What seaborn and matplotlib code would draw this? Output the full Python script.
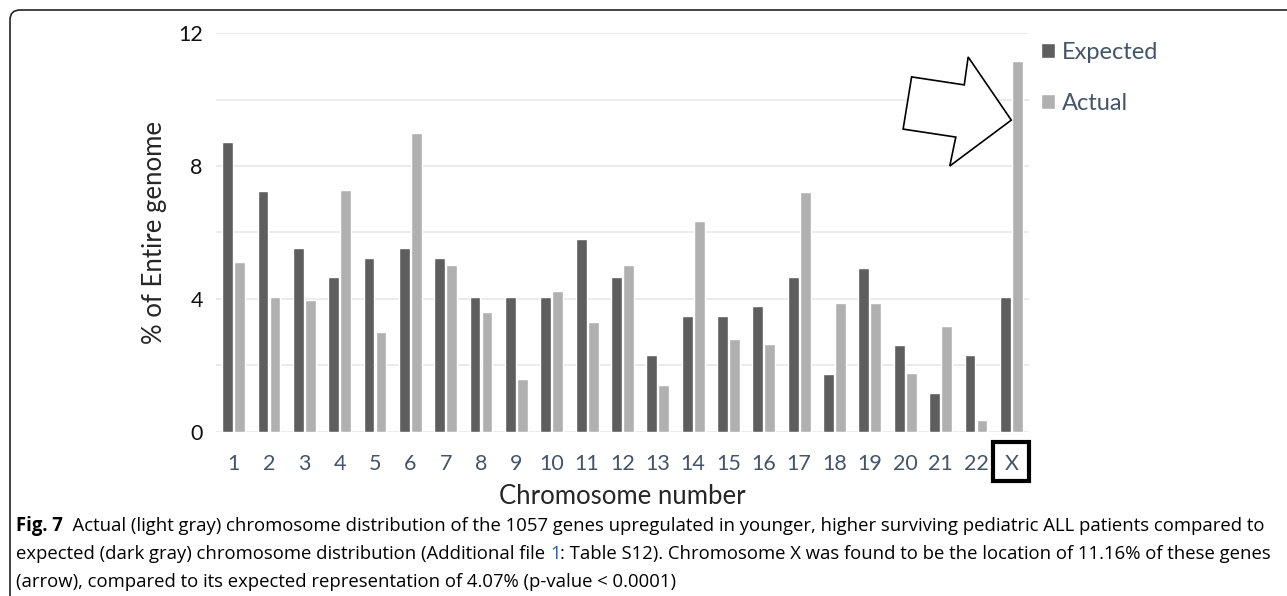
import pandas as pd
import numpy as np
import matplotlib.pyplot as plt
import matplotlib.transforms as mtransforms
from matplotlib.patches import FancyBboxPatch, Rectangle, Polygon
import seaborn as sns

# values (% of entire genome)
chromosomes = [str(i) for i in range(1, 23)] + ['X']
expected = [8.73, 7.26, 5.53, 4.65, 5.24, 5.53, 5.24, 4.06, 4.06, 4.06, 5.81, 4.65,
            2.32, 3.49, 3.49, 3.78, 4.65, 1.75, 4.93, 2.61, 1.17, 2.32, 4.07]
actual = [5.10, 4.06, 3.98, 7.29, 3.02, 8.99, 5.02, 3.60, 1.60, 4.24, 3.31, 5.02,
          1.40, 6.34, 2.81, 2.65, 7.21, 3.87, 3.87, 1.78, 3.20, 0.35, 11.16]
series_names = ['Expected', 'Actual']
colors = {'Expected': '#5e5e5e', 'Actual': '#b0b0b0'}

df = pd.DataFrame({
    'Chromosome': chromosomes * 2,
    'Series': ['Expected'] * len(chromosomes) + ['Actual'] * len(chromosomes),
    'Value': expected + actual,
})

sns.set_style('white')
plt.rcParams['font.family'] = ['Lato', 'DejaVu Sans']

fig = plt.figure(figsize=(12.87, 5.96), dpi=100)
ax = fig.add_axes([0.1678, 0.2752, 0.6317, 0.6694])

sns.barplot(data=df, x='Chromosome', y='Value', hue='Series', order=chromosomes,
            hue_order=series_names, palette=colors, width=0.68, gap=0.1,
            saturation=1, ax=ax)

ax.set_ylim(0, 12)
ax.set_xlim(-0.5, len(chromosomes) - 0.5)
ax.set_yticks([0, 4, 8, 12])
ax.set_yticks([2, 6, 10], minor=True)
ax.grid(axis='y', which='both', color='#e6e6e6', lw=1.1)
ax.set_axisbelow(True)
for s in ax.spines.values():
    s.set_visible(False)
ax.tick_params(axis='both', which='both', length=0)
ax.tick_params(axis='y', labelsize=15.5, pad=9.5, labelcolor='#111111')
ax.tick_params(axis='x', labelsize=15.5, pad=16, labelcolor='#44546a')
ax.set_ylabel('% of Entire genome', fontsize=18.5, labelpad=8)
ax.set_xlabel('Chromosome number', fontsize=18.5, labelpad=7)

# legend on the right
handles, labels = ax.get_legend_handles_labels()
ax.legend(handles, labels, loc='upper left', bbox_to_anchor=(1041 / 1287, 1 - 42 / 596),
          bbox_transform=fig.transFigure, frameon=False, fontsize=17,
          handlelength=0.6, handleheight=0.6, handletextpad=0.3, labelspacing=1.25,
          labelcolor='#44546a', borderaxespad=0, borderpad=0)

# box around the X tick label
xi = chromosomes.index('X')
blend = mtransforms.blended_transform_factory(ax.transData, ax.transAxes)
ax.add_patch(Rectangle((xi - 0.53, -0.123), 1.04, 0.098, transform=blend,
                       fill=False, lw=3, ec='black', clip_on=False))

# outlined block arrow pointing at the X bar
arrow = [(xi - 2.82, 10.68), (xi - 1.33, 10.44), (xi - 1.22, 11.28), (xi, 9.38),
         (xi - 1.74, 8.0), (xi - 1.57, 8.87), (xi - 3.06, 9.11)]
ax.add_patch(Polygon(arrow, closed=True, fc='white', ec='black', lw=1.2,
                     clip_on=False, zorder=5))

# rounded frame around the figure panel
fig.patches.append(FancyBboxPatch((10, -30), 1320, 616, boxstyle='round,pad=0,rounding_size=10',
                                  transform=None, fill=False, ec='#222222', lw=1.2))

# caption
renderer = fig.canvas.get_renderer()
cap_font = ['Open Sans', 'DejaVu Sans']


def draw_line(pieces, x, y, size):
    # pieces: (text, weight, color)
    cur = x
    for txt, weight, col in pieces:
        t = fig.text(cur, y, txt, fontsize=size, fontweight=weight, color=col,
                     family=cap_font, transform=None, va='baseline')
        bb = t.get_window_extent(renderer)
        cur = bb.x1
    return cur


lines = [
    [('Fig. 7', 'bold', 'black'),
     ('  Actual (light gray) chromosome distribution of the 1057 genes upregulated in younger, '
      'higher surviving pediatric ALL patients compared to', 'normal', 'black')],
    [('expected (dark gray) chromosome distribution (Additional file ', 'normal', 'black'),
     ('1', 'normal', '#1f5fbf'),
     (': Table S12). Chromosome X was found to be the location of 11.16% of these genes',
      'normal', 'black')],
    [('(arrow), compared to its expected representation of 4.07% (p-value < 0.0001)',
      'normal', 'black')],
]

# fit the caption size so the first line spans the panel width
size = 10.5
probe = fig.text(0, 0, ''.join(p[0] for p in lines[0]), fontsize=size, family=cap_font)
w = probe.get_window_extent(renderer).width
probe.remove()
size = size * 1252 / w

baselines = [596 - 531, 596 - 559, 596 - 587]
for pcs, yb in zip(lines, baselines):
    draw_line(pcs, 16, yb, size)

fig.savefig('out.png', dpi=100)
